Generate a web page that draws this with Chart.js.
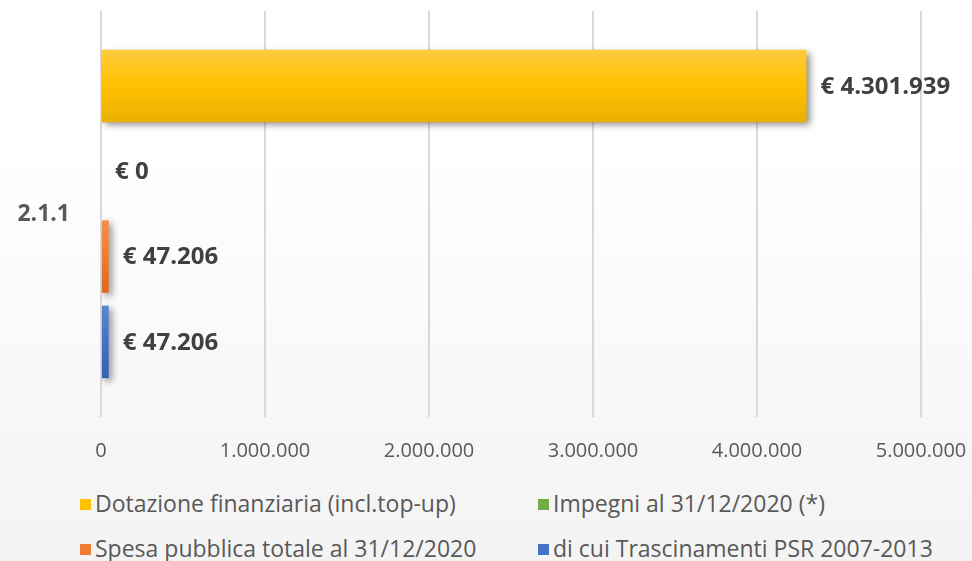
<!DOCTYPE html>
<html>
<head>
<meta charset="utf-8">
<script src="https://cdn.jsdelivr.net/npm/chart.js@4.4.1/dist/chart.umd.min.js"></script>
<style>
  html, body { margin: 0; padding: 0; }
  body { width: 972px; height: 561px; overflow: hidden;
         background: linear-gradient(#ffffff 0%, #ffffff 25%, #f3f3f3 100%); }
  #wrap { position: relative; width: 972px; height: 561px; }
  #chart { position: absolute; left: 0; top: 0; }
  .leg { position: absolute; font-family: "Open Sans", sans-serif;
         font-size: 23px; color: #595959; white-space: nowrap; line-height: 26px; }
  .leg span { display: inline-block; width: 11px; height: 11px; margin-right: 4px; vertical-align: 2px; }
</style>
</head>
<body>
<div id="wrap">
  <canvas id="chart" width="972" height="470"></canvas>
  <div id="legend"></div>
</div>
<script>
const categories = ['2.1.1'];
const seriesNames = ['Dotazione finanziaria (incl.top-up)', 'Impegni al 31/12/2020 (*)',
                     'Spesa pubblica totale al 31/12/2020', 'di cui Trascinamenti PSR 2007-2013'];
const dotazione = [4301939];
const impegni = [0];
const spesa = [47206];
const trascinamenti = [47206];
const xTicks = [0, 1000000, 2000000, 3000000, 4000000, 5000000];

const colors = [
  ['#ffcb3d', '#ffc000', '#e8b000'],
  ['#85c25e', '#70ad47', '#5e9a38'],
  ['#f48d4c', '#ed7d31', '#db6a1e'],
  ['#5a86d2', '#4472c4', '#3561b2']
];

function fmt(v) {
  return v.toString().replace(/\B(?=(\d{3})+(?!\d))/g, '.');
}

// gradient + shadow on bars
const barLook = {
  id: 'barLook',
  beforeDatasetsDraw(chart) {
    const c = chart.ctx;
    chart.data.datasets.forEach((ds, i) => {
      chart.getDatasetMeta(i).data.forEach(el => {
        const top = el.y - el.height / 2, bot = el.y + el.height / 2;
        const g = c.createLinearGradient(0, top, 0, bot);
        g.addColorStop(0, colors[i][0]);
        g.addColorStop(0.5, colors[i][1]);
        g.addColorStop(1, colors[i][2]);
        el.options.backgroundColor = g;
      });
    });
    c.save();
    c.shadowColor = 'rgba(0,0,0,0.45)';
    c.shadowBlur = 7;
    c.shadowOffsetX = 3;
    c.shadowOffsetY = 3;
  },
  afterDatasetsDraw(chart) {
    chart.ctx.restore();
  }
};

// "€ value" labels
const valueLabels = {
  id: 'valueLabels',
  afterDatasetsDraw(chart) {
    const c = chart.ctx;
    c.save();
    c.font = 'bold 24px "Open Sans", sans-serif';
    c.fillStyle = '#404040';
    c.textBaseline = 'middle';
    chart.data.datasets.forEach((ds, i) => {
      chart.getDatasetMeta(i).data.forEach((el, j) => {
        c.fillText('€ ' + fmt(ds.data[j]), el.x + 14, el.y + 1);
      });
    });
    c.restore();
  }
};

const seriesData = [dotazione, impegni, spesa, trascinamenti];

new Chart(document.getElementById('chart'), {
  type: 'bar',
  data: {
    labels: categories,
    datasets: seriesData.map((d, i) => ({
      label: seriesNames[i],
      data: d,
      backgroundColor: colors[i][1],
      barPercentage: 0.85,
      categoryPercentage: 0.84
    }))
  },
  options: {
    indexAxis: 'y',
    responsive: false,
    animation: false,
    layout: { padding: { top: 11, right: 51, left: 0, bottom: 0 } },
    plugins: { legend: { display: false }, tooltip: { enabled: false } },
    scales: {
      x: {
        min: 0,
        max: 5000000,
        afterBuildTicks: s => { s.ticks = xTicks.map(v => ({ value: v })); },
        afterFit: s => { s.height = 53; s.paddingLeft = 0; s.paddingRight = 0; },
        grid: { color: '#d9d9d9', lineWidth: 2, drawTicks: false },
        border: { display: false },
        ticks: {
          padding: 22,
          maxRotation: 0,
          color: '#595959',
          font: { family: '"Open Sans", sans-serif', size: 20 },
          callback: v => fmt(v)
        }
      },
      y: {
        afterFit: s => { s.width = 101; s.paddingTop = 0; s.paddingBottom = 0; },
        grid: { display: false },
        border: { display: false },
        ticks: {
          padding: 23,
          color: '#595959',
          font: { family: '"Open Sans", sans-serif', size: 23, weight: 'bold' }
        }
      }
    }
  },
  plugins: [barLook, valueLabels]
});

// legend in two aligned columns
const legendPos = [[80, 490], [538, 490], [80, 535], [538, 535]];
const legend = document.getElementById('legend');
seriesNames.forEach((name, i) => {
  const d = document.createElement('div');
  d.className = 'leg';
  d.style.left = legendPos[i][0] + 'px';
  d.style.top = legendPos[i][1] + 'px';
  const box = document.createElement('span');
  box.style.background = colors[i][1];
  d.appendChild(box);
  d.appendChild(document.createTextNode(name));
  legend.appendChild(d);
});
</script>
</body>
</html>
